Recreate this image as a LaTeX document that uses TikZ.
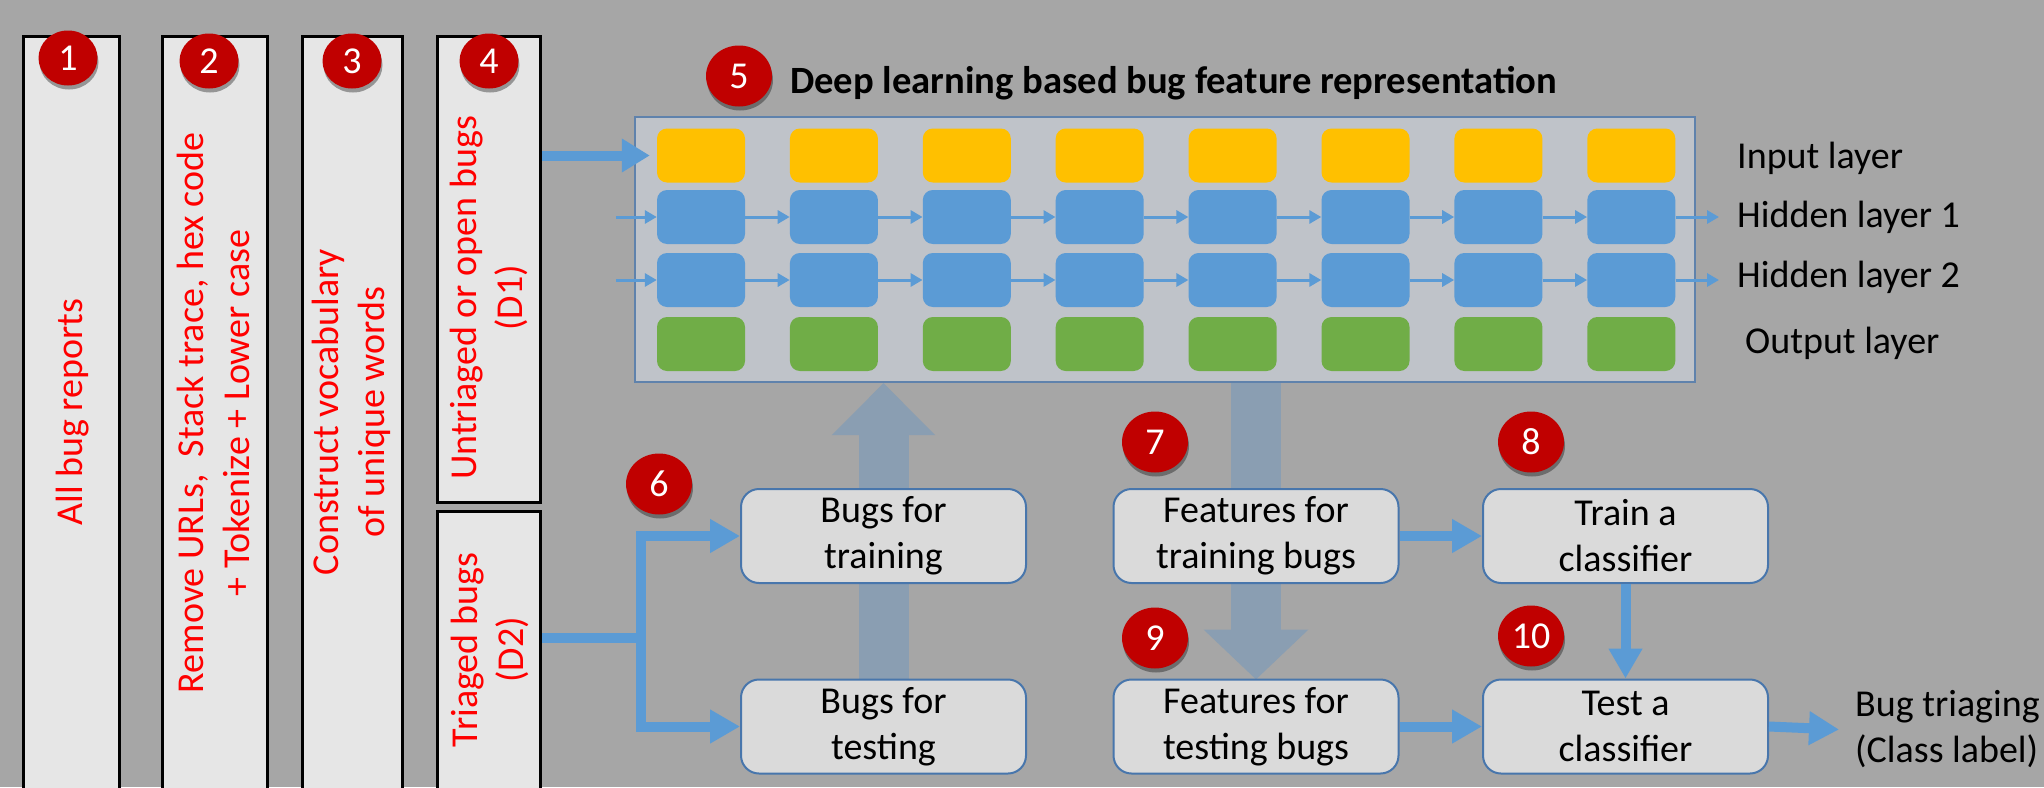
\documentclass[tikz,border=0pt]{standalone}
\usepackage{fontspec}
\setmainfont{Carlito}
\usetikzlibrary{arrows.meta,shadows,calc,shapes.geometric}
\definecolor{bgc}{RGB}{166,166,166}
\definecolor{colfill}{RGB}{230,230,230}
\definecolor{dlfill}{RGB}{191,195,201}
\definecolor{dlborder}{RGB}{95,130,172}
\definecolor{yel}{RGB}{255,192,0}
\definecolor{blu}{RGB}{91,155,213}
\definecolor{grn}{RGB}{112,173,71}
\definecolor{boxfill}{RGB}{218,218,218}
\definecolor{boxborder}{RGB}{72,118,172}
\definecolor{badgered}{RGB}{192,0,0}
\definecolor{bigarr}{RGB}{138,158,178}
\definecolor{txtred}{RGB}{255,0,0}
\begin{document}
\begin{tikzpicture}[x=1pt,y=-1pt,
  bigtext/.style={font=\fontsize{38}{46}\selectfont},
  colbox/.style={draw=black, line width=3pt, fill=colfill, rectangle, inner sep=0pt, anchor=north west},
  coltext/.style={bigtext, text=txtred, rotate=90, align=center, inner sep=0pt},
  badge/.style={ellipse, fill=badgered, text=white, minimum width=66pt, minimum height=61pt, inner sep=0pt,
    font=\fontsize{38}{38}\selectfont,
    drop shadow={shadow xshift=1pt, shadow yshift=-4pt, opacity=0.35, fill=black}},
  smallbadge/.style={badge, minimum width=59pt, minimum height=55pt},
  cell/.style={rectangle, rounded corners=10pt, minimum width=88pt, minimum height=54pt, inner sep=0pt},
  incell/.style={cell, fill=yel},
  hidcell/.style={cell, fill=blu},
  outcell/.style={cell, fill=grn},
  smallarrow/.style={draw=blu, line width=3pt, -{Triangle[length=12pt,width=13pt]}},
  procbox/.style={rectangle, rounded corners=18pt, draw=boxborder, line width=2pt, fill=boxfill,
    minimum width=285pt, minimum height=94pt, inner sep=0pt, bigtext, align=center},
  bluearrow/.style={draw=blu, line width=10pt, -{Triangle[length=30pt,width=32pt]}},
  blueline/.style={draw=blu, line width=10pt},
  grayarrow/.style={draw=bigarr, line width=50pt},
  layertext/.style={bigtext, anchor=base west, inner sep=0pt}
]
\useasboundingbox (0,0) rectangle (2044,787);
\clip (0,0) rectangle (2044,787);
\fill[bgc] (0,0) rectangle (2044,787);

% column boxes
\node[colbox, minimum width=96pt, minimum height=800pt] (c1) at (22,35) {};
\node[colbox, minimum width=105pt, minimum height=800pt] (c2) at (161,35) {};
\node[colbox, minimum width=100pt, minimum height=800pt] (c3) at (301,35) {};
\node[colbox, minimum width=103pt, minimum height=466pt] (c4) at (436,35) {};
\node[colbox, minimum width=103pt, minimum height=300pt] (d2) at (436,510) {};

\node[coltext] (t1) at (73,412) {All bug reports};
\node[coltext] (t2) at (213,413) {Remove URLs,\ \ Stack trace, hex code\\+ Tokenize + Lower case};
\node[coltext] (t3) at (351,412) {Construct vocabulary\\of unique words};
\node[coltext] (t4) at (489,298) {Untriaged or open bugs\\(D1)};
\node[coltext] (t5) at (490,650) {Triaged bugs\\(D2)};

% deep learning box
\node[rectangle, draw=dlborder, line width=2pt, fill=dlfill, minimum width=1060pt, minimum height=265pt, inner sep=0pt] (dl) at (1165,249.5) {};
\node[anchor=base west, inner sep=0pt, font=\fontsize{38.6}{46}\selectfont\bfseries] (title) at (790,93) {Deep learning based bug feature representation};

\foreach \i in {1,...,8} {
  \pgfmathsetmacro{\cx}{701+(\i-1)*132.9}
  \node[incell] (in\i) at (\cx,155.5) {};
  \node[hidcell] (ha\i) at (\cx,217) {};
  \node[hidcell] (hb\i) at (\cx,280) {};
  \node[outcell] (out\i) at (\cx,344) {};
}
\foreach \i [evaluate=\i as \j using int(\i+1)] in {1,...,7} {
  \draw[smallarrow] (ha\i.east) -- (ha\j.west);
  \draw[smallarrow] (hb\i.east) -- (hb\j.west);
}
\coordinate (ea) at (616,217);
\coordinate (eb) at (616,280);
\coordinate (xa) at (1719,217);
\coordinate (xb) at (1719,280);
\draw[smallarrow] (ea) -- (ha1.west);
\draw[smallarrow] (eb) -- (hb1.west);
\draw[smallarrow] (ha8.east) -- (xa);
\draw[smallarrow] (hb8.east) -- (xb);

\node[layertext] (l1) at (1737,168) {Input layer};
\node[layertext] (l2) at (1737,227) {Hidden layer 1};
\node[layertext] (l3) at (1737,287) {Hidden layer 2};
\node[layertext] (l4) at (1745,353) {Output layer};

% lower boxes positions
\coordinate (pbtrain) at (883.5,536);
\coordinate (pbtest) at (883.5,726.5);
\coordinate (pftrain) at (1256,536);
\coordinate (pftest) at (1256,726.5);

% big gray arrows
\draw[grayarrow, -{Triangle[length=52pt,width=100pt]}] ($(pbtest)+(0,-47)$) -- (pbtest |- dl.south);
\draw[grayarrow, -{Triangle[length=50pt,width=102pt]}] (pftest |- dl.south) -- ($(pftest)+(0,-47)$);

\node[procbox] (btrain) at (pbtrain) {Bugs for\\training};
\node[procbox] (btest) at (pbtest) {Bugs for\\testing};
\node[procbox] (ftrain) at (pftrain) {Features for\\training bugs};
\node[procbox] (ftest) at (pftest) {Features for\\testing bugs};
\node[procbox] (trainc) at (1625.5,536) {Train a\\classifier};
\node[procbox] (testc) at (1625.5,726.5) {Test a\\classifier};
\node[bigtext, align=left, inner sep=0pt, anchor=west] (res) at (1855,729.5) {Bug triaging\\(Class label)};

% blue arrows
\draw[bluearrow, -{Triangle[length=28pt,width=32pt]}] (c4.east |- in1.west) -- ([xshift=-7pt]in1.west);
\coordinate (j) at (641,638);
\draw[blueline] (j -| d2.east) -- (j);
\draw[draw=blu, line width=10pt, {Triangle[length=30pt,width=32pt]}-{Triangle[length=30pt,width=32pt]}] (btrain.west) -| (j) |- (btest.west);
\draw[bluearrow] (ftrain.east) -- (trainc.west);
\draw[bluearrow] (ftest.east) -- (testc.west);
\draw[bluearrow] (trainc.south) -- (testc.north);
\draw[bluearrow] (testc.east) -- ([xshift=-16pt]res.west);

% badges
\node[smallbadge] (b1) at (68,58) {1};
\node[smallbadge] (b2) at (209,61) {2};
\node[smallbadge] (b3) at (352,61) {3};
\node[smallbadge] (b4) at (489,61) {4};
\node[badge] (b5) at (739,76) {5};
\node[badge] (b6) at (659,484) {6};
\node[badge] (b7) at (1155,442) {7};
\node[badge] (b8) at (1531,442) {8};
\node[badge] (b9) at (1155,638) {9};
\node[badge] (b10) at (1531,636) {10};
\end{tikzpicture}
\end{document}
